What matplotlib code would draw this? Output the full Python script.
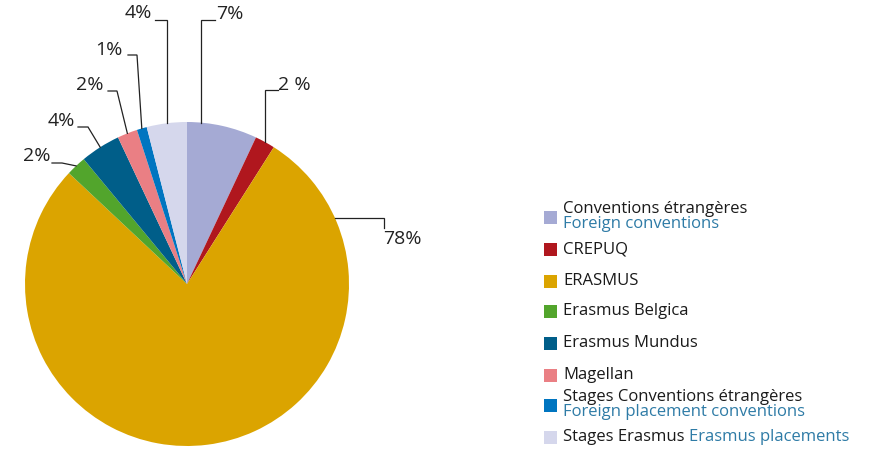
import numpy as np
import matplotlib
matplotlib.use('Agg')
import matplotlib.pyplot as plt
from matplotlib.patches import Rectangle

plt.rcParams['font.family'] = ['Open Sans', 'DejaVu Sans']

# data
programmes = ['Conventions étrangères', 'CREPUQ', 'ERASMUS', 'Erasmus Belgica',
              'Erasmus Mundus', 'Magellan', 'Stages Conventions étrangères', 'Stages Erasmus']
english = ['Foreign conventions', '', '', '', '', '', 'Foreign placement conventions',
           'Erasmus placements']
shares = [7, 2, 78, 2, 4, 2, 1, 4]
pct_labels = ['7%', '2 %', '78%', '2%', '4%', '2%', '1%', '4%']
colors = ['#a5aad4', '#b0171e', '#dba400', '#52a52c', '#005e89', '#ea7f84', '#0075c0', '#d5d7ec']

W, H = 874, 451
fig = plt.figure(figsize=(W / 100, H / 100), dpi=100)

# pie geometry in pixels
cx, cy, R = 187, 284, 162
ax = fig.add_axes([(cx - R) / W, (H - cy - R) / H, 2 * R / W, 2 * R / H])
wedges, _ = ax.pie(shares, colors=colors, startangle=90, counterclock=False,
                   radius=1, wedgeprops=dict(linewidth=0))
ax.set_xlim(-1, 1)
ax.set_ylim(-1, 1)
ax.set_aspect('equal')
ax.axis('off')


def px(x, y):
    # pixel (top-left origin) -> data coords of the pie axes
    return (x - cx) / R, (cy - y) / R


# where along each wedge the leader line starts (fraction of the wedge)
anchor_frac = [0.2, 0.5, 0.12, 0.5, 0.5, 0.5, 0.5, 0.5]
# leader elbows (pixels): kink, end of tick, text pos, alignment
elbows = [
    ((None, 20), (215, 20), (216, 14), 'left'),
    ((None, 90), (278, 90), (278, 85), 'left'),
    ((384, None), (384, 228), (383, 239), 'left'),
    ((62, 163), (52, 163), (50, 156), 'right'),
    ((88, 127), (78, 127), (75, 121), 'right'),
    ((117, 91), (108, 91), (103, 85), 'right'),
    ((137, 55), (128, 55), (123, 50), 'right'),
    ((None, 20), (155, 20), (152, 13), 'right'),
]

for w, f, (k, e, t, ha), lab in zip(wedges, anchor_frac, elbows, pct_labels):
    a1, a2 = w.theta1, w.theta2
    ang = np.deg2rad(a2 - f * (a2 - a1))
    x0, y0 = np.cos(ang), np.sin(ang)
    kx = x0 if k[0] is None else px(k[0], 0)[0]
    ky = y0 if k[1] is None else px(0, k[1])[1]
    ex, ey = px(*e)
    ax.plot([x0, kx, ex], [y0, ky, ey], color='#222222', lw=0.9, clip_on=False,
            solid_joinstyle='miter')
    tx, ty = px(*t)
    ax.text(tx, ty, lab, ha=ha, va='center', fontsize=14, color='#222222')

# legend drawn by hand
legend_y = [217, 249, 281, 311, 343, 375, 405, 437]
sq = 13
lx, tx0 = 544, 563
fs = 12
renderer = fig.canvas.get_renderer()
for name, eng, col, y in zip(programmes, english, colors, legend_y):
    fig.patches.append(Rectangle(((lx) / W, (H - y - sq / 2) / H), sq / W, sq / H,
                                 transform=fig.transFigure, facecolor=col, edgecolor='none'))
    if eng and name != 'Stages Erasmus':
        fig.text(tx0 / W, (H - y + 8) / H, name, ha='left', va='center',
                 fontsize=fs, color='#1a1a1a')
        fig.text(tx0 / W, (H - y - 7) / H, eng, ha='left', va='center',
                 fontsize=fs, color='#2e7ba6')
    elif eng:
        t1 = fig.text(tx0 / W, (H - y) / H, name + ' ', ha='left', va='center',
                      fontsize=fs, color='#1a1a1a')
        bb = t1.get_window_extent(renderer)
        fig.text(bb.x1 / W, (H - y) / H, eng, ha='left', va='center',
                 fontsize=fs, color='#2e7ba6')
    else:
        fig.text(tx0 / W, (H - y) / H, name, ha='left', va='center',
                 fontsize=fs, color='#1a1a1a')

fig.savefig('out.png', dpi=100)
